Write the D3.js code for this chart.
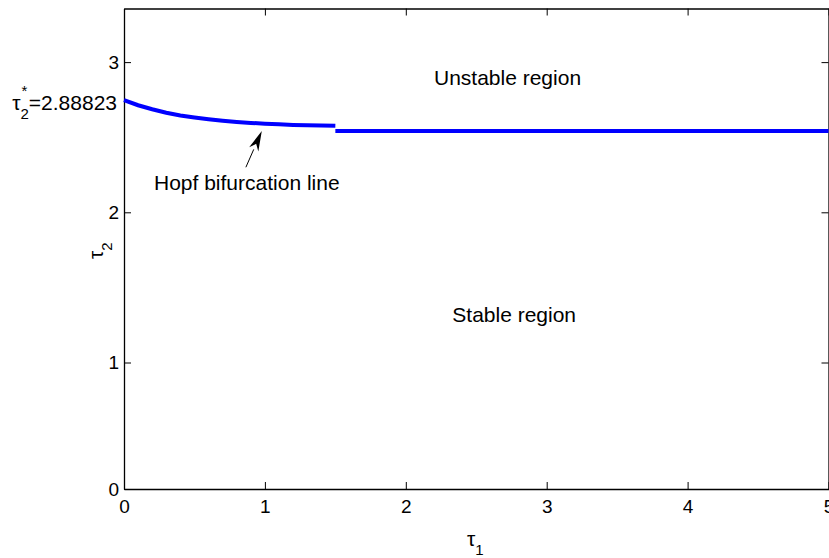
<!DOCTYPE html>
<html>
<head>
<meta charset="utf-8">
<script src="https://cdnjs.cloudflare.com/ajax/libs/d3/7.8.5/d3.min.js"></script>
<style>
  body { margin: 0; background: #fff; }
  svg { font-family: "Liberation Sans", Arial, sans-serif; }
</style>
</head>
<body>
<script>
// curve
const tau1Curve = [0, 0.1, 0.2, 0.3, 0.4, 0.5, 0.6, 0.7, 0.8, 0.9, 1.0, 1.1, 1.2, 1.3, 1.4, 1.5];
const tau2Curve = [2.747, 2.713, 2.686, 2.663, 2.645, 2.631, 2.619, 2.609, 2.601, 2.595, 2.59, 2.586, 2.582, 2.58, 2.578, 2.576];
const tau1Flat = [1.5, 5];
const tau2Flat = [2.541, 2.541];

const xTicks = [0, 1, 2, 3, 4, 5];
const yTicks = [0, 1, 2, 3];

const w = 829;
const h = 558;

const x = d3.scaleLinear().domain([0, 5]).range([124, 828.5]);
// the y axis of the picture is not uniform below 1, so map it piecewise
const y = d3.scaleLinear().domain([0, 1, 3.357]).range([489, 362.5, 8.5]);

const svg = d3.select("body").append("svg").attr("width", w).attr("height", h);

const fs = 21;
const tickFs = 19;

svg.append("g")
  .attr("transform", "translate(0,489)")
  .call(d3.axisBottom(x).tickValues(xTicks).tickSizeInner(-7).tickSizeOuter(0).tickPadding(11).tickFormat(d3.format("d")));

svg.append("g")
  .attr("transform", "translate(124,0)")
  .call(d3.axisLeft(y).tickValues(yTicks).tickSizeInner(-7).tickSizeOuter(0).tickPadding(5).tickFormat(d3.format("d")));

svg.append("g")
  .attr("transform", "translate(0,8.5)")
  .call(d3.axisTop(x).tickValues(xTicks).tickSizeInner(-7).tickSizeOuter(0).tickFormat(""));

svg.append("g")
  .attr("transform", "translate(828.5,0)")
  .call(d3.axisRight(y).tickValues(yTicks).tickSizeInner(-7).tickSizeOuter(0).tickFormat(""));

svg.selectAll(".domain").attr("stroke", "#000").attr("stroke-width", 1.3);
svg.selectAll(".tick line").attr("stroke", "#000").attr("stroke-width", 1);
svg.selectAll(".tick text").attr("font-size", tickFs).attr("fill", "#000").attr("font-family", "Liberation Sans, Arial, sans-serif");

const line = d3.line().x((d) => x(d[0])).y((d) => y(d[1]));

svg.append("path")
  .datum(d3.zip(tau1Curve, tau2Curve))
  .attr("d", line)
  .attr("fill", "none")
  .attr("stroke", "#0000ff")
  .attr("stroke-width", 4);

svg.append("path")
  .datum(d3.zip(tau1Flat, tau2Flat))
  .attr("d", line)
  .attr("fill", "none")
  .attr("stroke", "#0000ff")
  .attr("stroke-width", 4);

// annotations
svg.append("text").attr("x", x(2.2)).attr("y", y(2.85)).attr("font-size", fs).text("Unstable region");
svg.append("text").attr("x", x(2.33)).attr("y", y(1.27)).attr("font-size", fs).text("Stable region");
svg.append("text").attr("x", x(0.213)).attr("y", y(2.15)).attr("font-size", fs).text("Hopf bifurcation line");

// arrow
const tail = [x(0.865), y(2.3)];
const head = [x(0.978), y(2.541)];
const ang = Math.atan2(head[1] - tail[1], head[0] - tail[0]);
const aLen = 20, aW = 5;
const base = [head[0] - aLen * Math.cos(ang), head[1] - aLen * Math.sin(ang)];
svg.append("line")
  .attr("x1", tail[0]).attr("y1", tail[1])
  .attr("x2", base[0]).attr("y2", base[1])
  .attr("stroke", "#000").attr("stroke-width", 1);
svg.append("path")
  .attr("d", `M${head[0]},${head[1]}
    L${base[0] - aW * Math.sin(ang)},${base[1] + aW * Math.cos(ang)}
    L${base[0] + 6 * Math.cos(ang)},${base[1] + 6 * Math.sin(ang)}
    L${base[0] + aW * Math.sin(ang)},${base[1] - aW * Math.cos(ang)}Z`)
  .attr("fill", "#000");

// tau2* label at start of curve
const star = svg.append("text").attr("x", 117).attr("y", y(tau2Curve[0]) + 10)
  .attr("font-size", fs).attr("text-anchor", "end");
star.append("tspan").text("τ");
star.append("tspan").attr("dy", 9).attr("font-size", 15).text("2");
star.append("tspan").attr("dy", -9).text("=2.88823");
const subX = star.node().getStartPositionOfChar(1).x;
svg.append("text").attr("x", subX + 1).attr("y", y(tau2Curve[0]) - 4).attr("font-size", 15).text("*");

// axis labels
const xl = svg.append("text").attr("x", 467).attr("y", 546).attr("font-size", fs);
xl.append("tspan").text("τ");
xl.append("tspan").attr("dy", 9).attr("font-size", 15).text("1");

const yl = svg.append("text").attr("transform", "translate(103,259) rotate(-90)").attr("font-size", fs);
yl.append("tspan").text("τ");
yl.append("tspan").attr("dy", 9).attr("font-size", 15).text("2");
</script>
</body>
</html>
